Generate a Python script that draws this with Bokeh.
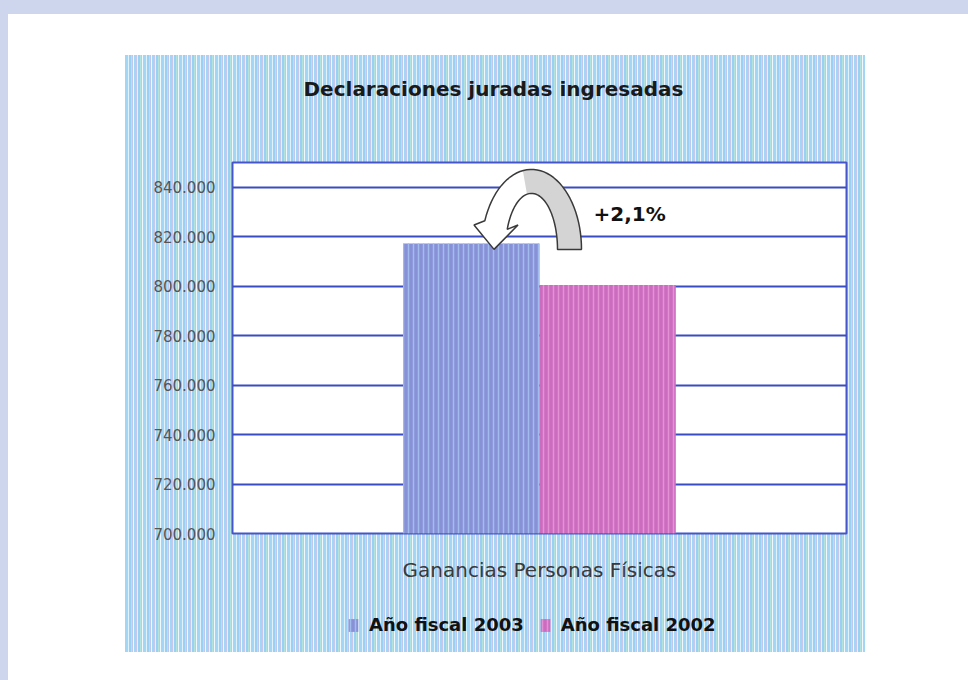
import math
from bokeh.plotting import figure
from bokeh.models import (FixedTicker, Range1d, Legend, LegendItem, Spacer, Label,
                          Column, Row, GlobalInlineStyleSheet)
from bokeh.embed import file_html
from bokeh.resources import INLINE
from bokeh.core.properties import value

# ---------------- data ----------------
title_text = "Declaraciones juradas ingresadas"
categories = ["Ganancias Personas Físicas"]
series_names = ["Año fiscal 2003", "Año fiscal 2002"]
values_2003 = [817300]
values_2002 = [800500]
y_ticks = [700000, 720000, 740000, 760000, 780000, 800000, 820000, 840000]
y_tick_labels = ["700.000", "720.000", "740.000", "760.000",
                 "780.000", "800.000", "820.000", "840.000"]
y_max = 850000

# ---------------- style ----------------
FONT = "DejaVu Sans"
FIG_W = 740
TITLE_H, MAIN_H, LEG_H = 106, 424, 67
MB_L, MB_R, MB_T, MB_B = 107, 19, 1, 52
FRAME_W = FIG_W - MB_L - MB_R
FRAME_H = MAIN_H - MB_T - MB_B
BAR_W = 0.222
GRID_BLUE = "#3a4cc2"
COLOR_03, HATCH_03 = "#8890d6", "#a2bcee"
COLOR_02, HATCH_02 = "#cc6cbe", "#e392d6"
STRIPES = ("repeating-linear-gradient(90deg,"
           "#a2d6f4 0px,#a2d6f4 2px,#c8c6ec 2px,#c8c6ec 3px,"
           "#e2f2fc 3px,#e2f2fc 4px,#9ad0f2 4px,#9ad0f2 6px,"
           "#b4e2dc 6px,#b4e2dc 7px,#bec8ee 7px,#bec8ee 8px,"
           "#f0f8fe 8px,#f0f8fe 9px)")

y_min = y_ticks[0]
n = len(categories)
centers = [(i + 0.5) / n for i in range(n)]

def strip(h):
    f = figure(width=FIG_W, height=h, x_range=Range1d(0, 1), y_range=Range1d(0, 1),
               output_backend="svg", toolbar_location=None,
               x_axis_location=None, y_axis_location=None,
               min_border_left=0, min_border_right=0, min_border_top=0, min_border_bottom=0,
               border_fill_color=None, background_fill_color=None, outline_line_color=None)
    f.grid.visible = False
    return f

# ---- title strip ----
pt = strip(TITLE_H)
pt.add_layout(Label(x=71, y=TITLE_H - 33, x_units="screen", y_units="screen",
                    text=title_text, text_font=FONT, text_font_size="20px",
                    text_font_style="bold", text_color="#1a1a1a",
                    text_baseline="middle", text_align="left"))

# ---- main chart ----
p = figure(width=FIG_W, height=MAIN_H,
           x_range=Range1d(0, 1), y_range=Range1d(y_min, y_max),
           output_backend="svg", toolbar_location=None,
           min_border_left=MB_L, min_border_right=MB_R,
           min_border_top=MB_T, min_border_bottom=MB_B,
           border_fill_color=None, background_fill_color="white",
           outline_line_color="#4656c8", outline_line_width=2)

bar_style = dict(line_color=None, hatch_pattern="|", hatch_scale=5, hatch_weight=1.5)

r03 = p.vbar(x=[c - BAR_W / 2 for c in centers], top=values_2003, bottom=y_min,
             width=BAR_W, fill_color=COLOR_03, hatch_color=HATCH_03, **bar_style)
r02 = p.vbar(x=[c + BAR_W / 2 for c in centers], top=values_2002, bottom=y_min,
             width=BAR_W, fill_color=COLOR_02, hatch_color=HATCH_02, **bar_style)

p.xgrid.visible = False
p.ygrid.ticker = FixedTicker(ticks=y_ticks)
p.ygrid.grid_line_color = GRID_BLUE
p.ygrid.grid_line_width = 2
p.ygrid.level = "underlay"

p.yaxis.ticker = FixedTicker(ticks=y_ticks)
p.yaxis.major_label_overrides = dict(zip(y_ticks, y_tick_labels))
p.xaxis.ticker = FixedTicker(ticks=centers)
p.xaxis.major_label_overrides = dict(zip(centers, categories))
for ax in (p.xaxis[0], p.yaxis[0]):
    ax.axis_line_color = None
    ax.major_tick_line_color = None
    ax.minor_tick_line_color = None
    ax.major_label_text_font = FONT
p.yaxis.major_label_text_font_size = "15px"
p.yaxis.major_label_text_color = "#555555"
p.yaxis.major_label_standoff = 11
p.xaxis.major_label_text_font_size = "20px"
p.xaxis.major_label_text_color = "#3a3a3a"
p.xaxis.major_label_standoff = 18

# curved arrow (+2,1%) built relative to the bars
px_x = 1.0 / FRAME_W
px_y = (y_max - y_min) / FRAME_H
c0 = centers[0]
cx = c0 - 8 * px_x
cy = values_2003[0] - 6 * px_y
th_end = math.radians(159)
def arc(rx, ry, a0, a1, k=40):
    pts = []
    for i in range(k + 1):
        t = a0 + (a1 - a0) * i / k
        pts.append((cx + rx * math.cos(t) * px_x, cy + ry * math.sin(t) * px_y))
    return pts
outer = arc(50, 80, 0.0, th_end)
inner = arc(26, 56, th_end, 0.0)
xc = cx + 38 * math.cos(th_end) * px_x
yb = cy + 68 * math.sin(th_end) * px_y
head = [(xc - 22 * px_x, yb), (xc - 2 * px_x, cy), (xc + 22 * px_x, yb)]
poly = outer + head + inner
p.patch([q[0] for q in poly], [q[1] for q in poly], fill_color="white", line_color=None)
shade = arc(50, 80, 0.0, math.radians(100)) + arc(26, 56, math.radians(100), 0.0)
p.patch([q[0] for q in shade], [q[1] for q in shade], fill_color="#d4d4d4", line_color=None)
p.patch([q[0] for q in poly], [q[1] for q in poly], fill_color=None,
        line_color="#3a3a3a", line_width=1.5)

pct = (values_2003[0] / values_2002[0] - 1) * 100
pct_text = ("+%.1f%%" % pct).replace(".", ",")
p.text(x=[c0 + 54 * px_x], y=[values_2003[0] + 29 * px_y], text=[pct_text],
       text_font=value(FONT), text_font_style="bold", text_font_size="20px",
       text_baseline="middle", text_align="left", text_color="#111111")

# ---- legend strip ----
pl = strip(LEG_H)
l03 = pl.vbar(x=centers, top=[0] * n, bottom=0, width=BAR_W,
              fill_color=COLOR_03, hatch_color=HATCH_03, **bar_style)
l02 = pl.vbar(x=centers, top=[0] * n, bottom=0, width=BAR_W,
              fill_color=COLOR_02, hatch_color=HATCH_02, **bar_style)
legend = Legend(items=[LegendItem(label=series_names[0], renderers=[l03]),
                       LegendItem(label=series_names[1], renderers=[l02])],
                orientation="horizontal", location=(115, 17),
                background_fill_alpha=0, border_line_color=None,
                glyph_width=12, glyph_height=16, label_standoff=10, spacing=15,
                padding=4, margin=0,
                label_text_font=FONT, label_text_font_style="bold",
                label_text_font_size="18px", label_text_color="#111111")
pl.add_layout(legend, "center")

chart = Column(pt, p, pl, width=FIG_W, height=TITLE_H + MAIN_H + LEG_H, spacing=0,
               styles={"background-image": STRIPES})

page_css = GlobalInlineStyleSheet(
    css="html,body{background:#cdd6ec;margin:0;padding:0;overflow:hidden;}")
inner_col = Column(Spacer(width=960, height=41),
                   Row(Spacer(width=117, height=TITLE_H + MAIN_H + LEG_H), chart),
                   width=960, height=666, styles={"background-color": "white"})
root = Column(Spacer(width=968, height=14),
              Row(Spacer(width=8, height=666), inner_col),
              stylesheets=[page_css])

open("out.html", "w").write(file_html(root, INLINE))
